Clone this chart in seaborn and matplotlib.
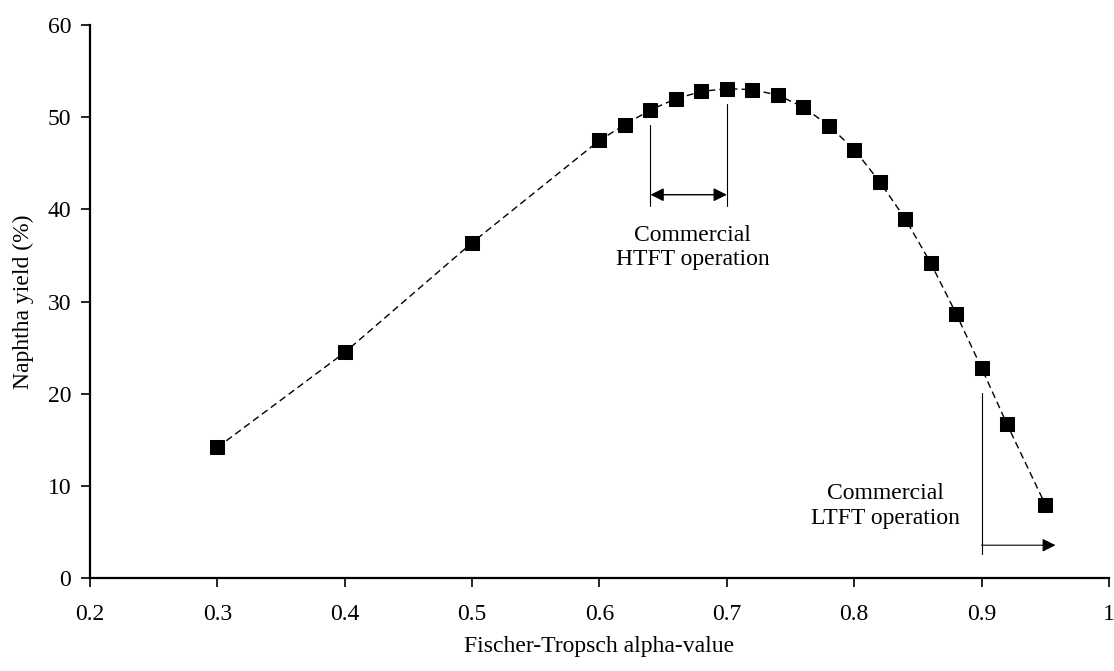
import numpy as np
import pandas as pd
import matplotlib
matplotlib.use("Agg")
import matplotlib.pyplot as plt
import seaborn as sns

# alpha values and naphtha yield
alpha = [0.30, 0.40, 0.50, 0.60, 0.62, 0.64, 0.66, 0.68, 0.70, 0.72, 0.74,
         0.76, 0.78, 0.80, 0.82, 0.84, 0.86, 0.88, 0.90, 0.92, 0.95]
naphtha_yield = [14.2, 24.5, 36.4, 47.5, 49.2, 50.8, 52.0, 52.8, 53.1, 53.0, 52.4,
                 51.1, 49.1, 46.5, 43.0, 39.0, 34.2, 28.7, 22.8, 16.7, 8.0]

x_ticks = [0.2, 0.3, 0.4, 0.5, 0.6, 0.7, 0.8, 0.9, 1.0]
x_tick_labels = ["0.2", "0.3", "0.4", "0.5", "0.6", "0.7", "0.8", "0.9", "1"]
y_ticks = [0, 10, 20, 30, 40, 50, 60]

df = pd.DataFrame({"alpha": alpha, "yield": naphtha_yield})

sns.set_theme(style="white")
plt.rcParams["font.family"] = ["Liberation Serif", "DejaVu Serif"]

fig = plt.figure(figsize=(11.14, 6.71), dpi=100)
ax = fig.add_axes([0.0808, 0.138, 0.9147, 0.8247])

sns.lineplot(data=df, x="alpha", y="yield", ax=ax, color="black",
             linestyle=(0, (5, 3)), linewidth=1.0, marker="s",
             markersize=9.5, markerfacecolor="black", markeredgecolor="black")

ax.set_xlim(0.2, 1.0)
ax.set_ylim(0, 60)
ax.set_xticks(x_ticks)
ax.set_xticklabels(x_tick_labels)
ax.set_yticks(y_ticks)
ax.tick_params(axis="both", direction="out", length=6.5, width=1.2,
               labelsize=17, colors="black", bottom=True, left=True)
ax.tick_params(axis="x", pad=12)
ax.tick_params(axis="y", pad=7)

for side in ["top", "right"]:
    ax.spines[side].set_visible(False)
for side in ["left", "bottom"]:
    ax.spines[side].set_color("black")
    ax.spines[side].set_linewidth(1.6)

ax.set_xlabel("Fischer-Tropsch alpha-value", fontsize=17, color="black", labelpad=8)
ax.set_ylabel("Naphtha yield (%)", fontsize=17, color="black", labelpad=10)

# HTFT window
ax.plot([0.64, 0.64], [49.2, 40.4], color="black", lw=0.8)
ax.plot([0.70, 0.70], [51.4, 40.4], color="black", lw=0.8)
ax.annotate("", xy=(0.70, 41.6), xytext=(0.64, 41.6),
            arrowprops=dict(arrowstyle="<|-|>", color="black", lw=1.0,
                            mutation_scale=20, shrinkA=0, shrinkB=0))
ax.text(0.673, 35.9, "Commercial\nHTFT operation", ha="center", va="center",
        fontsize=17, color="black", linespacing=1.2)

# LTFT window
ax.plot([0.90, 0.90], [20.1, 2.7], color="black", lw=0.8)
ax.annotate("", xy=(0.958, 3.6), xytext=(0.90, 3.6),
            arrowprops=dict(arrowstyle="-|>", color="black", lw=0.8,
                            mutation_scale=20, shrinkA=0, shrinkB=0))
ax.text(0.8246, 7.85, "Commercial\nLTFT operation", ha="center", va="center",
        fontsize=17, color="black", linespacing=1.2)

fig.savefig("out.png", dpi=100)
